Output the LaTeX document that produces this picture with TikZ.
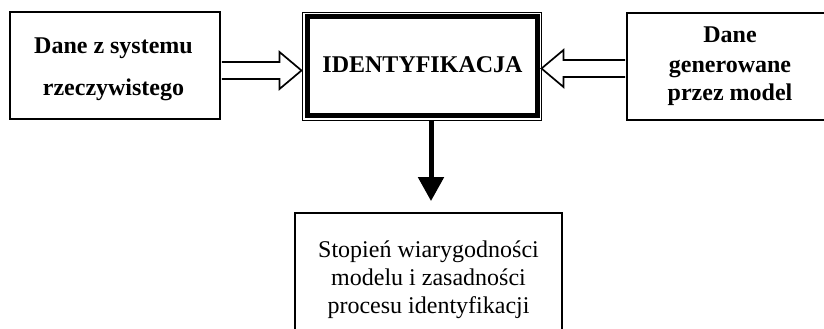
\documentclass[tikz,border=0pt]{standalone}
\usepackage{fontspec}
\setmainfont{Liberation Serif}
\usetikzlibrary{arrows.meta,calc}
\begin{document}
\begin{tikzpicture}[x=1pt,y=-1pt,
  box/.style={draw,line width=1.8pt,rectangle,inner sep=0pt},
  blbl/.style={anchor=base,inner sep=0pt,font=\fontsize{24}{28}\selectfont\bfseries},
  rlbl/.style={anchor=base,inner sep=0pt,font=\fontsize{24}{28}\selectfont},
  hollow/.style={draw,line width=1.7pt,fill=white,line join=miter}]
\useasboundingbox (0,0) rectangle (824,329);
% boxes
\node[box,minimum width=210pt,minimum height=107pt] (src) at (115,65.5) {};
\node[draw,line width=1pt,rectangle,inner sep=0pt,minimum width=239pt,minimum height=108pt] (ident) at (421.5,66.5) {};
\draw[line width=5pt] ($(ident.north west)+(5.5,4.5)$) rectangle ($(ident.south east)+(-4.5,-5.5)$);
\node[box,minimum width=206pt,minimum height=107pt] (tgt) at (730,66.5) {};
\node[box,minimum width=267pt,minimum height=127pt] (res) at (428.5,276.5) {};
% texts
\node[blbl] (s1) at (113.5,54) {Dane z systemu};
\node[blbl] (s2) at (113.5,95.5) {rzeczywistego};
\node[blbl] (it) at (422.5,72) {IDENTYFIKACJA};
\node[blbl] (t1) at (730,43) {Dane};
\node[blbl] (t2) at (730,72) {generowane};
\node[blbl] (t3) at (730,100) {przez model};
\node[rlbl] (r1) at (428.5,257.5) {Stopień wiarygodności};
\node[rlbl] (r2) at (428.5,285) {modelu i zasadności};
\node[rlbl] (r3) at (428.5,313) {procesu identyfikacji};
% left hollow arrow
\coordinate (la) at ($(src.east)+(0.9,5)$);
\coordinate (lt) at (ident.west |- la);
\draw[hollow] ($(la)+(0,-8.5)$) -- ($(lt)+(-22,-8.5)$) -- ($(lt)+(-22,-18.5)$) -- (lt)
  -- ($(lt)+(-22,18.5)$) -- ($(lt)+(-22,8.5)$) -- ($(la)+(0,8.5)$);
% right hollow arrow
\coordinate (ra) at ($(tgt.west)+(-0.9,2)$);
\coordinate (rt) at (ident.east |- ra);
\draw[hollow] ($(ra)+(0,-8.5)$) -- ($(rt)+(22,-8.5)$) -- ($(rt)+(22,-18.5)$) -- (rt)
  -- ($(rt)+(22,18.5)$) -- ($(rt)+(22,8.5)$) -- ($(ra)+(0,8.5)$);
% down arrow
\coordinate (ax) at ($(res.north)+(2.5,0)$);
\coordinate (ae) at ($(res.north)+(2.5,-11)$);
\draw[line width=5pt,-{Triangle[length=24pt,width=25pt]}] (ax |- ident.south) -- (ae);
\end{tikzpicture}
\end{document}
